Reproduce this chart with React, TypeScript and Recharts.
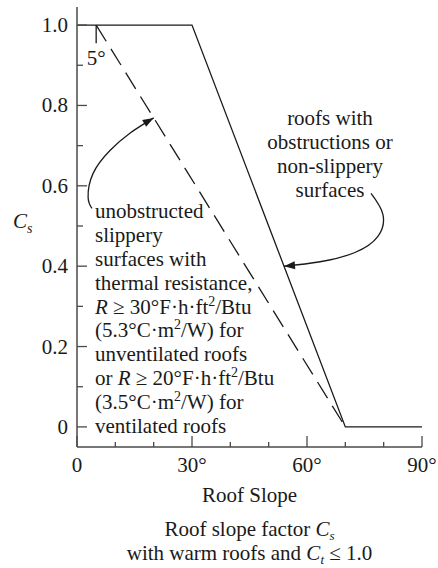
import { Line, LineChart, ReferenceDot, ReferenceLine, XAxis, YAxis } from "recharts";

// roof slope (degrees) axis
const slopeTicks = [0, 10, 20, 30, 40, 50, 60, 70, 80, 90];
const slopeLabels = [0, 30, 60, 90];
// Cs axis
const csTicks = [0, 0.1, 0.2, 0.3, 0.4, 0.5, 0.6, 0.7, 0.8, 0.9, 1.0];
const csLabels = [0, 0.2, 0.4, 0.6, 0.8, 1.0];

// roofs with obstructions or non-slippery surfaces (solid)
const obstructedSlope = [0, 30, 70, 90];
const obstructedCs = [1, 1, 0, 0];
// unobstructed slippery surfaces (dashed)
const slipperySlope = [5, 70];
const slipperyCs = [1, 0];

// callout arrows
const slipperyArrowSlope = [3.9, 2.9, 4.2, 8.6, 13.8, 20];
const slipperyArrowCs = [0.544, 0.571, 0.631, 0.688, 0.731, 0.769];
const obstructedArrowSlope = [76.7, 79.8, 78.5, 72.5, 63.4, 54];
const obstructedArrowCs = [0.581, 0.529, 0.474, 0.434, 0.411, 0.4];

const obstructedText = ["roofs with", "obstructions or", "non-slippery", "surfaces"];

const zip = (xs: number[], ys: number[]) => xs.map((x, i) => ({ x, y: ys[i] }));

const obstructedData = zip(obstructedSlope, obstructedCs);
const slipperyData = zip(slipperySlope, slipperyCs);
const slipperyArrow = zip(slipperyArrowSlope, slipperyArrowCs);
const obstructedArrow = zip(obstructedArrowSlope, obstructedArrowCs);

const font = "'Liberation Serif', 'Times New Roman', serif";
const ink = "#1a1a1a";
const frame = "#4a4a4a";
const fs = 21;

function BottomTick({ x, y, payload }: any) {
  const v = payload.value;
  const major = slopeLabels.includes(v);
  return (
    <g>
      <line x1={x} y1={y} x2={x} y2={y - (major ? 11 : 5)} stroke={frame} strokeWidth={1.3} />
      {major && (
        <text x={x} y={y + 25} textAnchor="middle" fontFamily={font} fontSize={fs} fill={ink}>
          {v === 0 ? "0" : `${v}°`}
        </text>
      )}
    </g>
  );
}

function TopTick({ x, y, payload }: any) {
  const major = slopeLabels.includes(payload.value);
  return <line x1={x} y1={y} x2={x} y2={y + (major ? 11 : 6)} stroke={frame} strokeWidth={1.3} />;
}

function LeftTick({ x, y, payload }: any) {
  const v = payload.value;
  const major = csLabels.some((c) => Math.abs(c - v) < 1e-6);
  return (
    <g>
      <line x1={x} y1={y} x2={x + (major ? 10 : 6)} y2={y} stroke={frame} strokeWidth={1.3} />
      {major && (
        <text x={x - 9} y={y + 7} textAnchor="end" fontFamily={font} fontSize={fs} fill={ink}>
          {v === 0 ? "0" : v.toFixed(1)}
        </text>
      )}
    </g>
  );
}

function RightTick({ x, y, payload }: any) {
  const major = csLabels.some((c) => Math.abs(c - payload.value) < 1e-6);
  return <line x1={x} y1={y} x2={x - (major ? 10 : 6)} y2={y} stroke={frame} strokeWidth={1.3} />;
}

const arrowHead = (angle: number) => (p: any) => (
  <polygon
    points="0,0 -11,-4 -11,4"
    transform={`translate(${p.cx},${p.cy}) rotate(${angle})`}
    fill={ink}
  />
);

function SlipperyText(p: any) {
  const step = 23.8;
  const lines: React.ReactNode[] = [
    "unobstructed",
    "slippery",
    "surfaces with",
    "thermal resistance,",
    <>
      <tspan fontStyle="italic">R</tspan> ≥ 30°F·h·ft<tspan dy={-8} fontSize={14}>2</tspan>
      <tspan dy={8}>/Btu</tspan>
    </>,
    <>
      (5.3°C·m<tspan dy={-8} fontSize={14}>2</tspan>
      <tspan dy={8}>/W) for</tspan>
    </>,
    "unventilated roofs",
    <>
      or <tspan fontStyle="italic">R</tspan> ≥ 20°F·h·ft<tspan dy={-8} fontSize={14}>2</tspan>
      <tspan dy={8}>/Btu</tspan>
    </>,
    <>
      (3.5°C·m<tspan dy={-8} fontSize={14}>2</tspan>
      <tspan dy={8}>/W) for</tspan>
    </>,
    "ventilated roofs",
  ];
  return (
    <g fontFamily={font} fontSize={fs} fill={ink}>
      {lines.map((l, i) => (
        <text key={i} x={p.cx} y={p.cy + i * step}>
          {l}
        </text>
      ))}
    </g>
  );
}

function ObstructedText(p: any) {
  return (
    <g fontFamily={font} fontSize={fs} fill={ink}>
      {obstructedText.map((l, i) => (
        <text key={i} x={p.cx} y={p.cy + i * 24} textAnchor="middle">
          {l}
        </text>
      ))}
    </g>
  );
}

function FiveDeg(p: any) {
  return (
    <text x={p.cx} y={p.cy} textAnchor="middle" fontFamily={font} fontSize={fs} fill={ink}>
      5°
    </text>
  );
}

function CsLabel({ viewBox }: any) {
  return (
    <text x={viewBox.x + 13} y={viewBox.y + 221} fontFamily={font} fontSize={fs} fill={ink}>
      <tspan fontStyle="italic">C</tspan>
      <tspan fontStyle="italic" fontSize={14} dy={5}>
        s
      </tspan>
    </text>
  );
}

function SlopeLabel({ viewBox }: any) {
  const cx = viewBox.x + viewBox.width / 2;
  const y = viewBox.y;
  return (
    <g fontFamily={font} fontSize={fs} fill={ink} textAnchor="middle">
      <text x={cx} y={y + 55}>Roof Slope</text>
      <text x={cx} y={y + 89}>
        Roof slope factor <tspan fontStyle="italic">C</tspan>
        <tspan fontStyle="italic" fontSize={13} dy={4}>
          s
        </tspan>
      </text>
      <text x={cx} y={y + 113}>
        with warm roofs and <tspan fontStyle="italic">C</tspan>
        <tspan fontStyle="italic" fontSize={13} dy={4}>
          t
        </tspan>
        <tspan dy={-4}> ≤ 1.0</tspan>
      </text>
    </g>
  );
}

export default function App() {
  return (
    <div style={{ position: "absolute", left: 0, top: 0, background: "#fff" }}>
      <LineChart width={438} height={568} margin={{ top: 7, right: 16, bottom: 0, left: 0 }}>
        <XAxis
          xAxisId={0}
          type="number"
          dataKey="x"
          domain={[0, 90]}
          ticks={slopeTicks}
          interval={0}
          allowDataOverflow
          height={121}
          tickSize={0}
          tickMargin={0}
          tickLine={false}
          axisLine={{ stroke: frame, strokeWidth: 1.5 }}
          tick={(p: any) => <BottomTick {...p} />}
          label={{ content: (p: any) => <SlopeLabel {...p} /> }}
        />
        <XAxis
          xAxisId="top"
          orientation="top"
          type="number"
          dataKey="x"
          domain={[0, 90]}
          ticks={slopeTicks}
          interval={0}
          allowDataOverflow
          height={0}
          tickSize={0}
          tickMargin={0}
          tickLine={false}
          axisLine={{ stroke: frame, strokeWidth: 1.5 }}
          tick={(p: any) => <TopTick {...p} />}
        />
        <YAxis
          yAxisId={0}
          type="number"
          domain={[-0.05, 1.045]}
          ticks={csTicks}
          interval={0}
          allowDataOverflow
          width={77}
          tickSize={0}
          tickMargin={0}
          tickLine={false}
          axisLine={{ stroke: frame, strokeWidth: 1.5 }}
          tick={(p: any) => <LeftTick {...p} />}
          label={{ content: (p: any) => <CsLabel {...p} /> }}
        />
        <YAxis
          yAxisId="right"
          orientation="right"
          type="number"
          domain={[-0.05, 1.045]}
          ticks={csTicks}
          interval={0}
          allowDataOverflow
          width={0}
          tickSize={0}
          tickMargin={0}
          tickLine={false}
          axisLine={{ stroke: frame, strokeWidth: 1.5 }}
          tick={(p: any) => <RightTick {...p} />}
        />
        <Line
          data={obstructedData}
          dataKey="y"
          type="linear"
          stroke={ink}
          strokeWidth={1.3}
          dot={false}
          isAnimationActive={false}
        />
        <Line
          data={slipperyData}
          dataKey="y"
          type="linear"
          stroke={ink}
          strokeWidth={1.3}
          strokeDasharray="19 9"
          dot={false}
          isAnimationActive={false}
        />
        <Line
          data={slipperyArrow}
          dataKey="y"
          type="natural"
          stroke={ink}
          strokeWidth={1.3}
          dot={false}
          isAnimationActive={false}
        />
        <Line
          data={obstructedArrow}
          dataKey="y"
          type="natural"
          stroke={ink}
          strokeWidth={1.3}
          dot={false}
          isAnimationActive={false}
        />
        <ReferenceLine
          segment={[
            { x: 5, y: 1 },
            { x: 5, y: 0.955 },
          ]}
          stroke={ink}
          strokeWidth={1.3}
        />
        <ReferenceDot x={5} y={0.9} r={0} shape={(p: any) => <FiveDeg {...p} />} />
        <ReferenceDot x={20} y={0.769} r={0} shape={arrowHead(-30)} />
        <ReferenceDot x={54} y={0.4} r={0} shape={arrowHead(175)} />
        <ReferenceDot x={4.7} y={0.519} r={0} shape={(p: any) => <SlipperyText {...p} />} />
        <ReferenceDot x={66} y={0.751} r={0} shape={(p: any) => <ObstructedText {...p} />} />
      </LineChart>
    </div>
  );
}
